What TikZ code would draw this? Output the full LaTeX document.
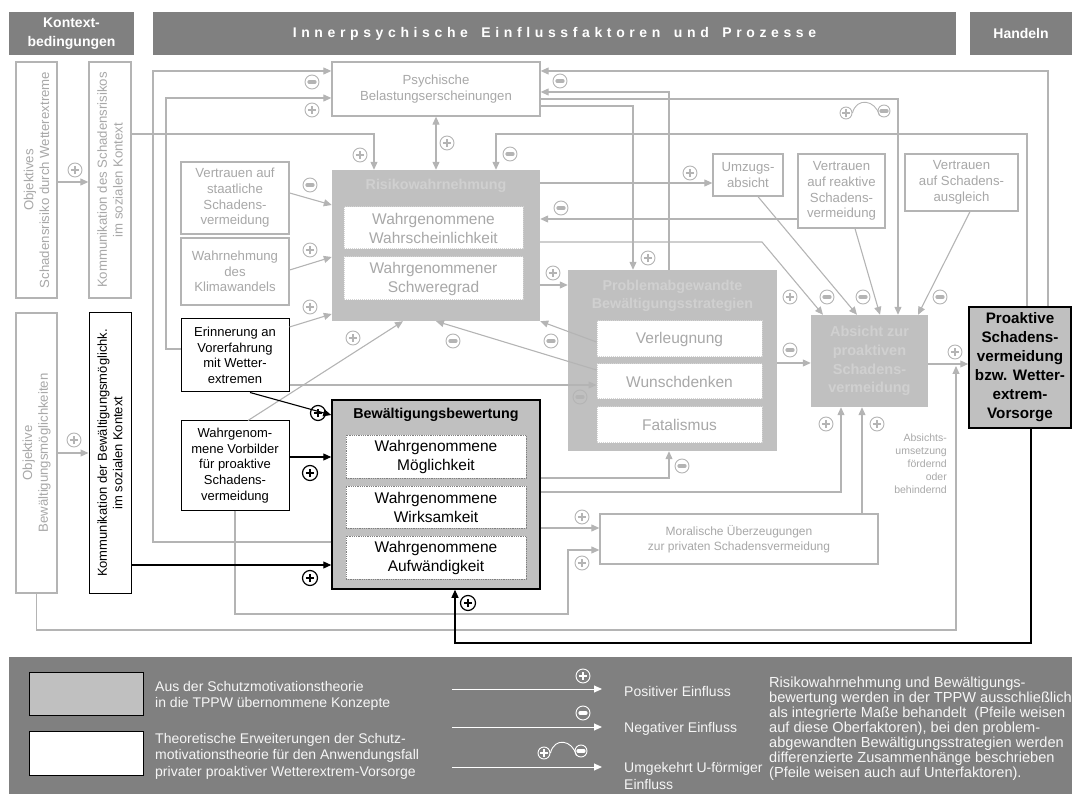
\documentclass[tikz,border=0pt]{standalone}
\usepackage{fontspec}
\setmainfont{Liberation Sans}
\newfontfamily\hdrspaced[LetterSpace=33]{Liberation Sans}
\usetikzlibrary{arrows.meta}
\newcommand{\fsz}[2]{\fontsize{#1}{#2}\selectfont}
\newcommand{\wgap}{\ \hspace{5pt}}

\definecolor{lg}{RGB}{180,180,180}
\definecolor{lt}{RGB}{168,168,168}
\definecolor{silv}{RGB}{192,192,192}
\definecolor{ttl}{RGB}{208,208,208}
\definecolor{hdr}{RGB}{128,128,128}
\definecolor{subedge}{RGB}{212,212,212}
\definecolor{legtxt}{RGB}{246,246,246}

\tikzset{
  hdrbox/.style={fill=hdr, text=white, font=\bfseries\fsz{14}{19}, align=center, inner sep=0pt},
  gbox/.style={draw=lg, line width=1.3pt, fill=white, text=lt, align=center, inner sep=0pt, font=\fsz{13.2}{15.7}},
  kbox/.style={draw=black, line width=1pt, fill=white, text=black, align=center, inner sep=0pt, font=\fsz{13}{15.7}},
  cbox/.style={fill=silv, inner sep=0pt},
  ctitle/.style={text=ttl, font=\bfseries\fsz{14.3}{17.5}, align=center, inner sep=0pt},
  subg/.style={fill=white, draw=subedge, densely dotted, line width=1pt, text=lt, align=center, inner sep=0pt, font=\fsz{15.5}{19}},
  subk/.style={fill=white, draw=gray, densely dotted, line width=0.8pt, text=black, align=center, inner sep=0pt, font=\fsz{15.5}{19}},
  conn/.style={draw=lg, line width=1.1pt, ->},
  connk/.style={draw=black, line width=1.1pt, ->},
  legtext/.style={text=legtxt, font=\fsz{14}{16.5}, align=left, inner sep=0pt},
  plussign/.style={circle, draw=#1, line width=0.9pt, minimum size=14pt, inner sep=0pt,
    path picture={
      \draw[#1, line width=2.6pt] ([xshift=-4.2pt]path picture bounding box.center) -- ([xshift=4.2pt]path picture bounding box.center);
      \draw[#1, line width=2.6pt] ([yshift=-4.2pt]path picture bounding box.center) -- ([yshift=4.2pt]path picture bounding box.center);}},
  plussign/.default=lg,
  minussign/.style={circle, draw=#1, line width=0.9pt, minimum size=14pt, inner sep=0pt,
    path picture={
      \draw[#1, line width=3.2pt, line cap=round] ([xshift=-3pt]path picture bounding box.center) -- ([xshift=3pt]path picture bounding box.center);}},
  minussign/.default=lg
}

\begin{document}
\begin{tikzpicture}[x=1pt, y=-1pt, >={Triangle[length=8pt,width=7pt]}]
\useasboundingbox (0,0) rectangle (1072,794);

% ---------- header bars ----------
\node[hdrbox, minimum width=125, minimum height=43] (hK) at (71.5,33.5) {Kontext-\\bedingungen};
\node[hdrbox, minimum width=803, minimum height=43, font=\hdrspaced\bfseries\fsz{14}{17}] (hI) at (554.5,33.5) {Innerpsychische\wgap Einflussfaktoren\wgap und\wgap Prozesse};
\node[hdrbox, minimum width=102, minimum height=43] (hH) at (1021,33.5) {Handeln};

% ---------- context conditions (rotated boxes) ----------
\node[gbox, rotate=90, minimum width=236, minimum height=41] (objR) at (36.5,180) {Objektives\\Schadensrisiko durch Wetterextreme};
\node[gbox, rotate=90, minimum width=236, minimum height=42] (komR) at (110,180) {Kommunikation des Schadensrisikos\\im sozialen Kontext};
\node[gbox, rotate=90, minimum width=280, minimum height=41] (objB) at (36.5,453) {Objektive\\Bewältigungsmöglichkeiten};
\node[kbox, rotate=90, minimum width=280, minimum height=42] (komB) at (110,453) {Kommunikation der Bewältigungsmöglichk.\\im sozialen Kontext};

% ---------- small factor boxes ----------
\node[gbox, minimum width=208, minimum height=54] (psy) at (436,89) {Psychische\\Belastungserscheinungen};
\node[gbox, minimum width=108, minimum height=72] (stA) at (235,198) {Vertrauen auf\\staatliche\\Schadens-\\vermeidung};
\node[gbox, minimum width=108, minimum height=67] (klima) at (235,271.5) {Wahrnehmung\\des\\Klimawandels};
\node[kbox, minimum width=108, minimum height=73] (erin) at (235,355.5) {Erinnerung an\\Vorerfahrung\\mit Wetter-\\extremen};
\node[kbox, minimum width=108, minimum height=89] (vorb) at (235,465.5) {Wahrgenom-\\mene Vorbilder\\für proaktive\\Schadens-\\vermeidung};
\node[gbox, minimum width=70, minimum height=42] (umz) at (748,175) {Umzugs-\\absicht};
\node[gbox, minimum width=87, minimum height=74] (reak) at (841.5,191) {Vertrauen\\auf reaktive\\Schadens-\\vermeidung};
\node[gbox, minimum width=113, minimum height=57] (ausg) at (961.5,182.5) {Vertrauen\\auf Schadens-\\ausgleich};
\node[gbox, minimum width=278, minimum height=50, font=\fsz{12}{15}] (moral) at (739,539) {Moralische Überzeugungen\\zur privaten Schadensvermeidung};

% ---------- Risikowahrnehmung ----------
\node[cbox, minimum width=208, minimum height=151] (risk) at (436,245.5) {};
\node[ctitle] (riskT) at (436,186) {Risikowahrnehmung};
\node[subg, minimum width=179, minimum height=42] (riskA) at (433.5,228) {Wahrgenommene\\Wahrscheinlichkeit};
\node[subg, minimum width=179, minimum height=43] (riskB) at (433.5,278.5) {Wahrgenommener\\Schweregrad};

% ---------- problem-avoiding coping ----------
\node[cbox, minimum width=209, minimum height=181] (prob) at (672.5,360.5) {};
\node[ctitle] (probT) at (672.5,296) {Problemabgewandte\\Bewältigungsstrategien};
\node[subg, minimum width=165, minimum height=36] (verl) at (679.5,339) {Verleugnung};
\node[subg, minimum width=165, minimum height=35] (wun) at (679.5,381.5) {Wunschdenken};
\node[subg, minimum width=165, minimum height=36] (fat) at (679.5,425) {Fatalismus};

% ---------- Bewältigungsbewertung ----------
\node[cbox, draw=black, line width=1.5pt, minimum width=208, minimum height=189] (bew) at (436,494.5) {};
\node[text=black, font=\bfseries\fsz{14.3}{17.5}, inner sep=0pt] (bewT) at (436,415) {Bewältigungsbewertung};
\node[subk, minimum width=180, minimum height=43] (bewA) at (436,456.5) {Wahrgenommene\\Möglichkeit};
\node[subk, minimum width=180, minimum height=42] (bewB) at (436,507) {Wahrgenommene\\Wirksamkeit};
\node[subk, minimum width=180, minimum height=43] (bewC) at (436,557.5) {Wahrgenommene\\Aufwändigkeit};

% ---------- intention and action ----------
\node[cbox, minimum width=117, minimum height=92, text=ttl, font=\bfseries\fsz{14.5}{18.7}, align=center] (absi) at (869.5,361) {Absicht zur\\proaktiven\\Schadens-\\vermeidung};
\node[cbox, draw=black, line width=1.5pt, minimum width=102, minimum height=121, text=black, font=\bfseries\fsz{15.2}{19}, align=center] (proa) at (1020,367.5) {Proaktive\\Schadens-\\vermeidung\\bzw. Wetter-\\extrem-\\Vorsorge};
\node[text=lt, align=right, font=\fsz{10.5}{13}, inner sep=0pt, anchor=north east] (umset) at (947,434) {Absichts-\\umsetzung\\fördernd\\oder\\behindernd};
\coordinate (aim) at (956,366);

% ---------- connectors ----------
\draw[conn] (objR.south |- 0,182) -- (komR.north |- 0,182);
\draw[conn] (objB.south |- 0,453) -- (komB.north |- 0,453);
\draw[conn] (komR.south |- 0,134) -| (risk.north -| 374,0);
\draw[conn] (bew.west |- 0,542) -| (153,71) -- (psy.west |- 0,71);
\draw[conn] (erin.west |- 0,349) -| (166,98) -- (psy.west |- 0,98);
\draw[conn, <->] (psy.south) -- (risk.north);
\draw[conn] (proa.north -| 1027,0) |- (496,134) -- (risk.north -| 496,0);
\draw[conn] (proa.north -| 1048,0) |- (psy.east |- 0,71);
\draw[conn] (prob.north -| 669,0) |- (psy.east |- 0,92);
\draw[conn] (psy.east |- 0,99) -| (absi.north -| 898,0);
\draw[conn] (psy.east |- 0,106) -| (prob.north -| 633,0);
\draw[conn] (stA.east |- 0,193) -- (risk.west |- 0,205);
\draw[conn] (klima.east |- 0,270) -- (risk.west |- 0,257);
\draw[conn] (erin.east |- 0,327) -- (risk.west |- 0,314);
\draw[conn] (vorb.north -| 248,0) -- (risk.south -| 403,0);
\draw[conn] (erin.east |- 0,385) -- (wun.west |- 0,385);
\draw[conn] (vorb.south) |- (568,614) |- (moral.west |- 0,550);
\draw[conn] (bew.east |- 0,528) -- (moral.west |- 0,528);
\draw[conn] (bew.east |- 0,478) -| (prob.south -| 669,0);
\draw[conn] (bew.east |- 0,492) -| (absi.south -| 841,0);
\draw[conn] (moral.north -| 862,0) -- (absi.south -| 862,0);
\draw[conn] (objB.west) |- (aim |- 0,630) -- (aim);
\draw[conn] (absi.east |- 0,364) -- (proa.west |- 0,364);
\draw[conn] (risk.east |- 0,183) -- (umz.west |- 0,183);
\draw[conn] (reak.west |- 0,219) -- (risk.east |- 0,219);
\draw[conn] (risk.east |- 0,242) -- (762,242) -- (absi.north -| 823,0);
\draw[conn] (umz.south -| 758,0) -- (absi.north -| 857,0);
\draw[conn] (reak.south -| 855,0) -- (absi.north -| 880,0);
\draw[conn] (ausg.south -| 970,0) -- (absi.north -| 918,0);
\draw[conn] (risk.east |- 0,285) -- (prob.west |- 0,285);
\draw[conn] (verl.west |- 0,342) -- (risk.south east);
\draw[conn] (wun.west |- 0,370) -- (risk.south);
\draw[conn] (prob.east |- 0,363) -- (absi.west |- 0,363);
\draw[connk] (erin.south -| 250,0) -- (bew.west |- 0,415);
\draw[connk] (vorb.east |- 0,457) -- (bew.west |- 0,457);
\draw[connk] (komB.south |- 0,565) -- (bew.west |- 0,565);
\draw[connk] (proa.south -| 1031,0) |- (455,643) -- (bew.south -| 455,0);

% ---------- influence signs ----------
\node[plussign] (s1) at (75,170) {};
\node[plussign] (s2) at (74,440) {};
\node[minussign] (s3) at (312,82) {};
\node[plussign] (s4) at (312,110) {};
\node[plussign] (s5) at (360,155) {};
\node[plussign] (s6) at (447,143) {};
\node[minussign] (s7) at (510,154) {};
\node[minussign] (s8) at (560,81) {};
\node[minussign] (s9) at (310,185) {};
\node[plussign] (s10) at (310,250) {};
\node[plussign] (s11) at (310,307) {};
\node[plussign] (s12) at (353,338) {};
\node[minussign] (s13) at (453,341) {};
\node[minussign] (s14) at (551,341) {};
\node[plussign] (s15) at (553,273) {};
\node[minussign] (s16) at (561,208) {};
\node[plussign] (s17) at (648,258) {};
\node[plussign] (s18) at (690,173) {};
\node[plussign] (s19) at (790,297) {};
\node[minussign] (s20) at (827,297) {};
\node[minussign] (s21) at (863,297) {};
\node[minussign] (s22) at (940,297) {};
\node[minussign] (s23) at (790,350) {};
\node[plussign] (s24) at (955,352) {};
\node[plussign] (s25) at (826,424) {};
\node[plussign] (s26) at (877,424) {};
\node[minussign] (s27) at (682,466) {};
\node[minussign] (s28) at (580,397) {};
\node[plussign] (s29) at (582,517) {};
\node[plussign] (s30) at (582,563) {};
\node[plussign=black, line width=1.2pt, minimum size=15pt] (s31) at (318,413) {};
\node[plussign=black, line width=1.2pt, minimum size=15pt] (s32) at (310,473) {};
\node[plussign=black, line width=1.2pt, minimum size=15pt] (s33) at (310,578) {};
\node[plussign=black, line width=1.2pt, minimum size=15pt] (s34) at (468,603) {};
% inverted-U influence
\node[plussign, minimum size=12pt] (u1) at (846,113) {};
\node[minussign, minimum size=12pt] (u2) at (884,111) {};
\draw[lg, line width=0.9pt] (u1.east) .. controls +(4,-16) and +(-4,-16) .. (u2.south west);

% ---------- legend ----------
\node[fill=hdr, minimum width=1063, minimum height=137, anchor=north west, inner sep=0pt] (legend) at (9,657) {};
\node[fill=silv, draw=black, line width=1pt, minimum width=114, minimum height=43, inner sep=0pt] (legG) at (86,693.5) {};
\node[fill=white, draw=black, line width=1pt, minimum width=114, minimum height=44, inner sep=0pt] (legW) at (86,753) {};
\node[legtext, anchor=west] (legGt) at (155,696) {Aus der Schutzmotivationstheorie\\in die TPPW übernommene Konzepte};
\node[legtext, anchor=west] (legWt) at (155,756) {Theoretische Erweiterungen der Schutz-\\motivationstheorie für den Anwendungsfall\\privater proaktiver Wetterextrem-Vorsorge};

\coordinate (la1) at (452,689); \coordinate (lb1) at (602,689);
\coordinate (la2) at (452,727); \coordinate (lb2) at (602,727);
\coordinate (la3) at (452,767); \coordinate (lb3) at (602,767);
\draw[white, line width=1pt, ->] (la1) -- (lb1);
\draw[white, line width=1pt, ->] (la2) -- (lb2);
\draw[white, line width=1pt, ->] (la3) -- (lb3);
\node[plussign=white] (lp) at (583,676) {};
\node[minussign=white] (lm) at (583,713) {};
\node[plussign=white, minimum size=12pt] (lu1) at (544,753) {};
\node[minussign=white, minimum size=12pt] (lu2) at (581,751) {};
\draw[white, line width=0.9pt] (lu1.east) .. controls +(4,-16) and +(-4,-16) .. (lu2.south west);
\node[legtext, anchor=west] (lt1) at (624,691) {Positiver Einfluss};
\node[legtext, anchor=west] (lt2) at (624,729) {Negativer Einfluss};
\node[legtext, anchor=west] (lt3) at (624,776) {Umgekehrt U-förmiger\\Einfluss};
\node[legtext, anchor=north west, font=\fsz{14.6}{14.9}] (lt4) at (769,677) {Risikowahrnehmung und Bewältigungs-\\bewertung werden in der TPPW ausschließlich\\als integrierte Maße behandelt\ \ (Pfeile weisen\\auf diese Oberfaktoren), bei den problem-\\abgewandten Bewältigungsstrategien werden\\differenzierte Zusammenhänge beschrieben\\(Pfeile weisen auch auf Unterfaktoren).};
\end{tikzpicture}
\end{document}
